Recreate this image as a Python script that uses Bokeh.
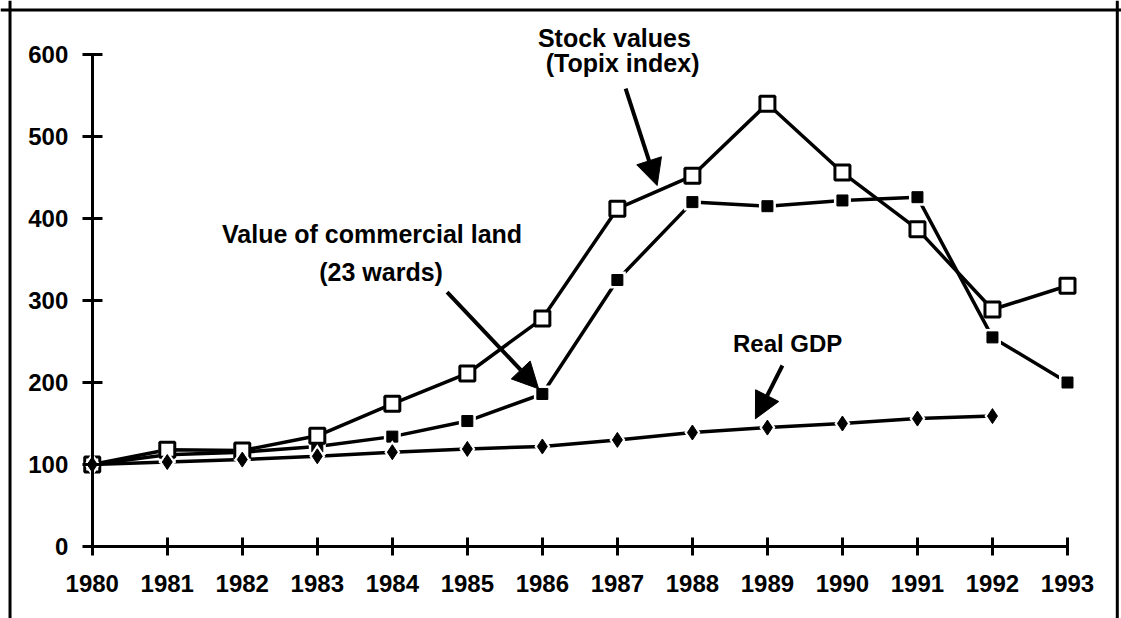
from bokeh.plotting import figure
from bokeh.models import Range1d, Arrow, NormalHead, FixedTicker, Span
from bokeh.core.properties import value
from bokeh.embed import file_html
from bokeh.resources import INLINE

# ---- data ----
years = [1980, 1981, 1982, 1983, 1984, 1985, 1986, 1987, 1988, 1989, 1990, 1991, 1992, 1993]
stock_values = [100, 118, 117, 135, 174, 211, 278, 412, 452, 540, 456, 387, 289, 318]
land_values = [100, 112, 115, 122, 134, 153, 186, 325, 420, 415, 422, 426, 255, 200]
gdp_years = [1980, 1981, 1982, 1983, 1984, 1985, 1986, 1987, 1988, 1989, 1990, 1991, 1992]
gdp_values = [100, 103, 106, 110, 115, 119, 122, 130, 139, 145, 150, 156, 159]
y_ticks = [0, 100, 200, 300, 400, 500, 600]

# ---- annotation labels (text, x, y) ----
label_texts = ["Stock values", "(Topix index)", "Value of commercial land", "(23 wards)", "Real GDP"]
label_x = [1986.96, 1987.07, 1983.73, 1983.85, 1989.27]
label_y = [620.7, 590.2, 381.7, 334.5, 247.6]
label_sizes = ["25px", "25px", "25px", "25px", "24px"]

# arrows: (x_start, y_start, x_end, y_end)
arrows = [
    (1987.11, 558.5, 1987.53, 440.2),
    (1984.73, 310.1, 1985.95, 192.3),
    (1989.20, 220.7, 1988.84, 155.7),
]

FONT = "Liberation Sans"

X0, X1 = 1978.777, 1993.72
Y0, Y1 = -87.8, 665.85

p = figure(width=1121, height=618, output_backend="svg", toolbar_location=None,
           x_range=Range1d(X0, X1), y_range=Range1d(Y0, Y1),
           min_border=0, min_border_left=0, min_border_right=0,
           min_border_top=0, min_border_bottom=0)
p.outline_line_color = None
p.xgrid.visible = False
p.ygrid.visible = False
p.background_fill_color = "white"
p.border_fill_color = "white"

# frame box (left, right, top edges)
p.add_layout(Span(location=1978.904, dimension="height", line_color="black", line_width=3))
p.add_layout(Span(location=1993.664, dimension="height", line_color="black", line_width=3))
p.add_layout(Span(location=654.3, dimension="width", line_color="black", line_width=3))

# axes placed inside the frame
for ax in (p.xaxis, p.yaxis):
    ax.axis_line_width = 3
    ax.axis_line_color = "black"
    ax.major_tick_line_width = 3
    ax.major_tick_line_color = "black"
    ax.minor_tick_line_color = None
    ax.major_label_text_font = FONT
    ax.major_label_text_font_style = "bold"
    ax.major_label_text_font_size = "24px"
    ax.major_label_text_color = "black"

p.xaxis.fixed_location = 0
p.xaxis.bounds = (1980, 1993)
p.xaxis.ticker = FixedTicker(ticks=years)
p.xaxis.major_tick_in = 9
p.xaxis.major_tick_out = 9
p.xaxis.major_label_standoff = 19

p.yaxis.fixed_location = 1980
p.yaxis.bounds = (0, 600)
p.yaxis.ticker = FixedTicker(ticks=y_ticks)
p.yaxis.major_tick_in = 10
p.yaxis.major_tick_out = 10
p.yaxis.major_label_standoff = 14

# lines
p.line(years, stock_values, line_color="black", line_width=3.5)
p.line(years, land_values, line_color="black", line_width=3.5)
p.line(gdp_years, gdp_values, line_color="black", line_width=3.5)

# land markers with white halo
p.scatter(years, land_values, marker="square", size=17, fill_color="white", line_color=None)
p.scatter(years, land_values, marker="square", size=11, fill_color="black", line_color="black")

# stock open squares
p.scatter(years, stock_values, marker="square", size=15, fill_color="white",
          line_color="black", line_width=3)

# gdp diamonds with white halo
p.scatter(gdp_years, gdp_values, marker="diamond", size=24, fill_color="white", line_color=None)
p.scatter(gdp_years, gdp_values, marker="diamond", size=15, fill_color="black", line_color="black")

# annotation texts
for t, x, y, s in zip(label_texts, label_x, label_y, label_sizes):
    p.text(x=[x], y=[y], text=[t], text_font=value(FONT), text_font_style="bold",
           text_font_size=s, text_align="center", text_baseline="middle",
           text_color="black")

for xs, ys, xe, ye in arrows:
    p.add_layout(Arrow(end=NormalHead(size=26, fill_color="black", line_color="black"),
                       x_start=xs, y_start=ys, x_end=xe, y_end=ye,
                       line_width=4, line_color="black"))

open("out.html", "w").write(file_html(p, INLINE))
